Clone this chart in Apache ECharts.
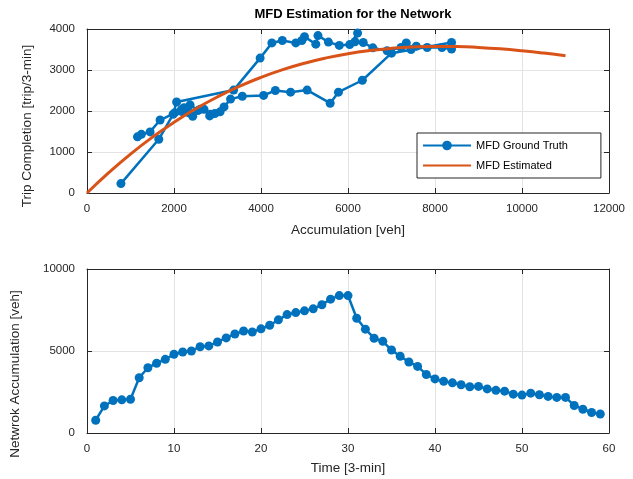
<!DOCTYPE html>
<html>
<head>
<meta charset="utf-8">
<script src="https://cdn.jsdelivr.net/npm/echarts@6/dist/echarts.min.js"></script>
<style>
  html, body { margin: 0; padding: 0; background: #ffffff; }
  #chart { width: 633px; height: 479px; }
</style>
</head>
<body>
<div id="chart"></div>
<script>
// Time index of each sample [3-min]
const timeSteps = [1,2,3,4,5,6,7,8,9,10,11,12,13,14,15,16,17,18,19,20,21,22,23,24,25,26,27,28,29,30,
  31,32,33,34,35,36,37,38,39,40,41,42,43,44,45,46,47,48,49,50,51,52,53,54,55,56,57,58,59];

// Network accumulation [veh] per time step
const accumulation = [780,1650,1980,2020,2060,3370,3980,4250,4490,4800,
  4940,5000,5260,5310,5550,5800,6040,6220,6160,6350,
  6570,6900,7220,7340,7450,7570,7820,8160,8380,8380,
  7000,6330,5780,5590,5060,4680,4330,4060,3570,3300,
  3150,3060,2940,2820,2840,2690,2600,2550,2370,2310,
  2430,2330,2230,2170,2170,1680,1450,1250,1160];

// Trip completion [trip/3-min] per time step
const tripCompletion = [230,1310,1920,1960,2220,2510,3290,3660,3720,3660,
  3720,3810,3630,3840,3680,3600,3620,3900,3690,3670,
  3540,3470,3550,3660,3500,3580,3550,3550,3510,3670,
  3410,2750,2460,2190,2510,2460,2500,2380,2360,2290,
  2100,1980,1940,1880,1920,2040,2040,2010,2150,2060,
  1870,1960,2080,2030,1990,1780,1490,1430,1370];

// Estimated MFD curve, sampled every 500 veh
const fitAccumulation = [0,500,1000,1500,2000,2500,3000,3500,4000,4500,5000,5500,
  6000,6500,7000,7500,8000,8500,9000,9500,10000,10500,11000];
const fitTrip = [0,497,950,1359,1726,2055,2345,2600,2820,3008,3166,3295,
  3398,3475,3529,3562,3575,3571,3550,3516,3469,3412,3346];

// Axis tick settings
const mfdXTicks = { min: 0, max: 12000, interval: 2000 };
const mfdYTicks = { min: 0, max: 4000, interval: 1000 };
const timeXTicks = { min: 0, max: 60, interval: 10 };
const accYTicks = { min: 0, max: 10000, interval: 5000 };

const FONT = '"Liberation Sans", Arial, Helvetica, sans-serif';
const AX = '#262626';
const BLUE = '#0072BD';
const ORANGE = '#D95319';
const NAME_SIZE = 13.5;

const truthPairs = accumulation.map((a, i) => [a, tripCompletion[i]]);
const fitPairs = fitAccumulation.map((a, i) => [a, fitTrip[i]]);
const timePairs = timeSteps.map((t, i) => [t, accumulation[i]]);

function mainAxis(ticks, pos, gridIndex, name, nameGap) {
  return {
    type: 'value', gridIndex, position: pos,
    min: ticks.min, max: ticks.max, interval: ticks.interval,
    name, nameLocation: 'middle', nameGap,
    nameTextStyle: { fontFamily: FONT, fontSize: NAME_SIZE, color: AX },
    axisLine: { show: true, onZero: false, lineStyle: { color: AX, width: 1 } },
    axisTick: { show: true, inside: true, length: 5, lineStyle: { color: AX } },
    axisLabel: {
      fontFamily: FONT, fontSize: 11.5, color: AX, margin: pos === 'left' ? 12 : 10,
      formatter: (v) => String(v)
    },
    splitLine: { show: true, lineStyle: { color: '#e3e3e3', width: 1 } }
  };
}
function frameAxis(ticks, pos, gridIndex) {
  return {
    type: 'value', gridIndex, position: pos,
    min: ticks.min, max: ticks.max, interval: ticks.interval,
    axisLine: { show: true, onZero: false, lineStyle: { color: AX, width: 1 } },
    axisTick: { show: true, inside: true, length: 5, lineStyle: { color: AX } },
    axisLabel: { show: false },
    splitLine: { show: false }
  };
}
// Vertical axis title placed beside a panel
function sideTitle(text, x, y) {
  return {
    type: 'text', x, y, rotation: Math.PI / 2,
    style: {
      text, fill: AX, font: NAME_SIZE + 'px ' + FONT,
      align: 'center', verticalAlign: 'middle'
    }
  };
}

const chart = echarts.init(document.getElementById('chart'), null, { renderer: 'canvas' });
chart.setOption({
  animation: false,
  backgroundColor: '#ffffff',
  title: {
    text: 'MFD Estimation for the Network',
    left: 348, top: 3, textAlign: 'center',
    textStyle: { fontFamily: FONT, fontSize: 13, fontWeight: 'bold', color: '#000' }
  },
  grid: [
    { left: 87, top: 29, width: 522, height: 164 },
    { left: 87, top: 269, width: 522, height: 164 }
  ],
  xAxis: [
    mainAxis(mfdXTicks, 'bottom', 0, 'Accumulation [veh]', 30),
    frameAxis(mfdXTicks, 'top', 0),
    mainAxis(timeXTicks, 'bottom', 1, 'Time [3-min]', 28),
    frameAxis(timeXTicks, 'top', 1)
  ],
  yAxis: [
    mainAxis(mfdYTicks, 'left', 0, '', 0),
    frameAxis(mfdYTicks, 'right', 0),
    mainAxis(accYTicks, 'left', 1, '', 0),
    frameAxis(accYTicks, 'right', 1)
  ],
  graphic: [
    sideTitle('Trip Completion [trip/3-min]', 27, 126),
    sideTitle('Netwrok Accumulation [veh]', 15, 374)
  ],
  legend: {
    left: 417, top: 133,
    orient: 'vertical',
    data: [
      { name: 'MFD Ground Truth' },
      { name: 'MFD Estimated', itemStyle: { opacity: 0 } }
    ],
    itemWidth: 48, itemHeight: 12, itemGap: 9,
    padding: [7, 33, 7, 5],
    backgroundColor: '#ffffff',
    borderColor: AX, borderWidth: 1,
    textStyle: { fontFamily: FONT, fontSize: 11, color: '#000' }
  },
  series: [
    {
      name: 'MFD Ground Truth', type: 'line',
      xAxisIndex: 0, yAxisIndex: 0,
      data: truthPairs,
      symbol: 'circle', symbolSize: 9,
      lineStyle: { color: BLUE, width: 2.5 },
      itemStyle: { color: BLUE },
      z: 2
    },
    {
      name: 'MFD Estimated', type: 'line',
      xAxisIndex: 0, yAxisIndex: 0,
      data: fitPairs,
      smooth: true, showSymbol: false, symbol: 'none',
      lineStyle: { color: ORANGE, width: 3 },
      itemStyle: { color: ORANGE },
      z: 3
    },
    {
      name: 'Accumulation', type: 'line',
      xAxisIndex: 2, yAxisIndex: 2,
      data: timePairs,
      symbol: 'circle', symbolSize: 9,
      lineStyle: { color: BLUE, width: 2.5 },
      itemStyle: { color: BLUE }
    }
  ]
});
</script>
</body>
</html>
